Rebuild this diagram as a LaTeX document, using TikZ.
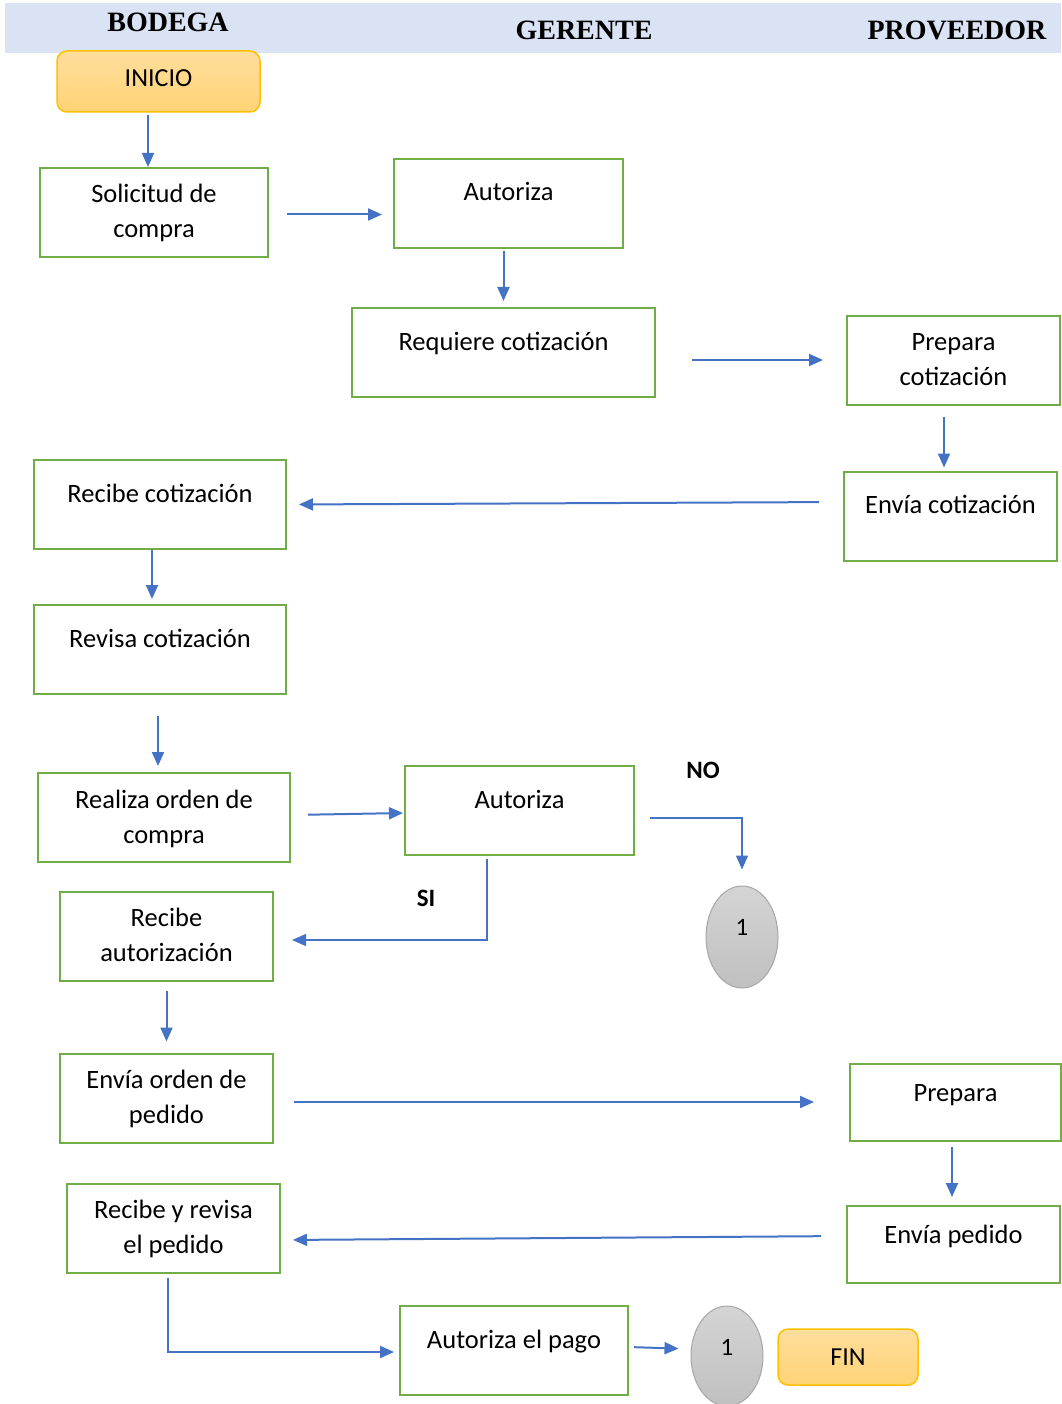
\documentclass[tikz,border=0pt]{standalone}
\usepackage{fontspec}
\setmainfont{Carlito}
\newfontfamily\lanefont{Liberation Serif}
\usepackage{tikz}
\usetikzlibrary{arrows.meta,shapes.geometric}
\definecolor{stepgreen}{RGB}{112,173,71}
\definecolor{flowblue}{RGB}{68,114,196}
\definecolor{laneblue}{RGB}{218,227,243}
\definecolor{termborder}{RGB}{255,192,0}
\definecolor{termtop}{RGB}{255,221,156}
\definecolor{termbottom}{RGB}{255,212,118}
\definecolor{connborder}{RGB}{166,166,166}
\definecolor{conntop}{RGB}{212,212,212}
\definecolor{connbottom}{RGB}{192,192,192}
\tikzstyle{Step}=[shape=rectangle, draw=stepgreen, line width=2pt, fill=white, inner sep=0pt, align=center, font=\fontsize{26.5}{35}\selectfont]
\tikzstyle{OneLine}=[text height=42pt, text depth=47pt]
\tikzstyle{TwoLine}=[text height=70pt, text depth=19pt]
\tikzstyle{LowLine}=[text height=37pt, text depth=40pt]
\tikzstyle{Terminal}=[shape=rectangle, rounded corners=10pt, draw=termborder, line width=1.5pt, top color=termtop, bottom color=termbottom, inner sep=0pt, text height=36pt, font=\fontsize{26}{30}\selectfont]
\tikzstyle{Connector}=[shape=ellipse, draw=connborder, line width=1pt, top color=conntop, bottom color=connbottom, inner sep=0pt, minimum width=72pt, text height=10pt, font=\fontsize{25}{29}\selectfont]
\tikzstyle{Lane}=[inner sep=0pt, font=\lanefont\bfseries\fontsize{28}{32}\selectfont]
\tikzstyle{Answer}=[inner sep=0pt, font=\bfseries\fontsize{25}{29}\selectfont]
\tikzstyle{arrow}=[draw=flowblue, line width=2pt, -{Triangle[length=14pt,width=12pt]}]
\pgfdeclarelayer{nodelayer}
\pgfdeclarelayer{edgelayer}
\pgfsetlayers{main,nodelayer,edgelayer}

\begin{document}
\begin{tikzpicture}[x=1pt, y=-1pt]
	\useasboundingbox (0,0) rectangle (1061,1404);
	% lanes
	\fill [laneblue] (5,3) rectangle (1061,53);
	\begin{pgfonlayer}{nodelayer}
		\node [style=Lane] (bodega) at (168,22) {BODEGA};
		\node [style=Lane] (gerente) at (584,30) {GERENTE};
		\node [style=Lane] (proveedor) at (957,30) {PROVEEDOR};
		% quotation
		\node [style=Terminal, minimum width=203pt, text depth=25pt] (inicio) at (158.5,81.5) {INICIO};
		\node [style=Step, style=TwoLine, minimum width=228pt] (solicitud) at (154,212.5) {Solicitud de\\compra};
		\node [style=Step, style=OneLine, minimum width=229pt] (autoriza) at (508.5,203.5) {Autoriza};
		\node [style=Step, style=OneLine, minimum width=303pt] (requiere) at (503.5,352.5) {Requiere cotización};
		\node [style=Step, style=TwoLine, minimum width=213pt] (preparacot) at (953.5,360) {Prepara\\cotización};
		\node [style=Step, style=OneLine, minimum width=213pt] (enviacot) at (950.5,516) {Envía cotización};
		\node [style=Step, style=OneLine, minimum width=252pt] (recibecot) at (160,504.5) {Recibe cotización};
		\node [style=Step, style=OneLine, minimum width=252pt] (revisacot) at (160,649.5) {Revisa cotización};
		% order
		\node [style=Step, style=TwoLine, minimum width=252pt] (realiza) at (164,817.5) {Realiza orden de\\compra};
		\node [style=Step, style=OneLine, minimum width=229pt] (autoriza2) at (519.5,810.5) {Autoriza};
		\node [style=Answer] (no) at (703,770) {NO};
		\node [style=Answer] (si) at (426,898) {SI};
		\node [style=Connector, minimum height=102pt, text depth=14pt] (circ1) at (742,937) {1};
		\node [style=Step, style=TwoLine, minimum width=213pt] (recibeaut) at (166.5,936) {Recibe\\autorización};
		\node [style=Step, style=TwoLine, minimum width=213pt] (enviaorden) at (166.5,1098) {Envía orden de\\pedido};
		\node [style=Step, style=LowLine, minimum width=211pt] (prepara) at (955.5,1102.5) {Prepara};
		\node [style=Step, style=LowLine, minimum width=213pt] (enviaped) at (953.5,1244.5) {Envía pedido};
		\node [style=Step, style=TwoLine, minimum width=213pt] (recibeped) at (173.5,1228) {Recibe y revisa\\el pedido};
		\node [style=Step, style=OneLine, minimum width=228pt] (autpago) at (514,1350.5) {Autoriza el pago};
		\node [style=Connector, minimum height=100pt, text depth=12pt] (circ2) at (727,1356) {1};
		\node [style=Terminal, minimum width=140pt, text depth=20pt] (fin) at (848,1357) {FIN};
	\end{pgfonlayer}
	\begin{pgfonlayer}{edgelayer}
		% quotation
		\draw [style=arrow, shorten <=2pt] ([xshift=-6pt]solicitud.north |- inicio.south) -- ([xshift=-6pt]solicitud.north);
		\draw [style=arrow, shorten <=18pt, shorten >=11pt] ([yshift=-2pt]solicitud.east) -- ([yshift=-2pt]solicitud.east -| autoriza.west);
		\draw [style=arrow, shorten <=2pt, shorten >=6pt] (requiere.north |- autoriza.south) -- (requiere.north);
		\draw [style=arrow, shorten <=36pt, shorten >=23pt] (preparacot.west -| requiere.east) -- (preparacot.west);
		\draw [style=arrow, shorten <=11pt, shorten >=3pt] ([xshift=-9.5pt]preparacot.south) -- ([xshift=-9.5pt]preparacot.south |- enviacot.north);
		\draw [style=arrow, shorten <=24pt, shorten >=12pt] ([yshift=14pt]enviacot.west) -- (recibecot.east);
		\draw [style=arrow, shorten >=5pt] ([xshift=-8pt]recibecot.south) -- ([xshift=-8pt]recibecot.south |- revisacot.north);
		\draw [style=arrow, shorten <=21pt, shorten >=6pt] ([xshift=-2pt]revisacot.south) -- ([xshift=-2pt]revisacot.south |- realiza.north);
		% order
		\draw [style=arrow, shorten <=17pt, shorten >=1pt] ([yshift=2.5pt]realiza.east) -- ([yshift=-2.5pt]autoriza2.west);
		\draw [style=arrow, line width=1.4pt, shorten <=15pt, shorten >=16pt] ([yshift=-7.5pt]autoriza2.east) -| (circ1.north);
		\draw [style=arrow, line width=1.4pt, shorten <=3pt, shorten >=18pt] ([xshift=-32.5pt]autoriza2.south) |- ([yshift=-4pt]recibeaut.east);
		\draw [style=arrow, shorten <=9pt, shorten >=11pt] (recibeaut.south) -- (enviaorden.north);
		\draw [style=arrow, shorten <=20pt, shorten >=35pt] ([yshift=-4pt]enviaorden.east) -- ([yshift=-4pt]enviaorden.east -| prepara.west);
		\draw [style=arrow, shorten <=5pt, shorten >=8pt] ([xshift=-3.5pt]prepara.south) -- ([xshift=-3.5pt]prepara.south |- enviaped.north);
		\draw [style=arrow, shorten <=25pt, shorten >=12pt] ([yshift=8.5pt]enviaped.west) -- ([yshift=-12pt]recibeped.east);
		\draw [style=arrow, shorten <=4pt, shorten >=5pt] ([xshift=-5.5pt]recibeped.south) |- ([yshift=-1.5pt]autpago.west);
		\draw [style=arrow, shorten <=5pt, shorten >=12pt] ([yshift=3.5pt]autpago.east) -- ([yshift=7pt]circ2.west);
	\end{pgfonlayer}
\end{tikzpicture}
\end{document}
